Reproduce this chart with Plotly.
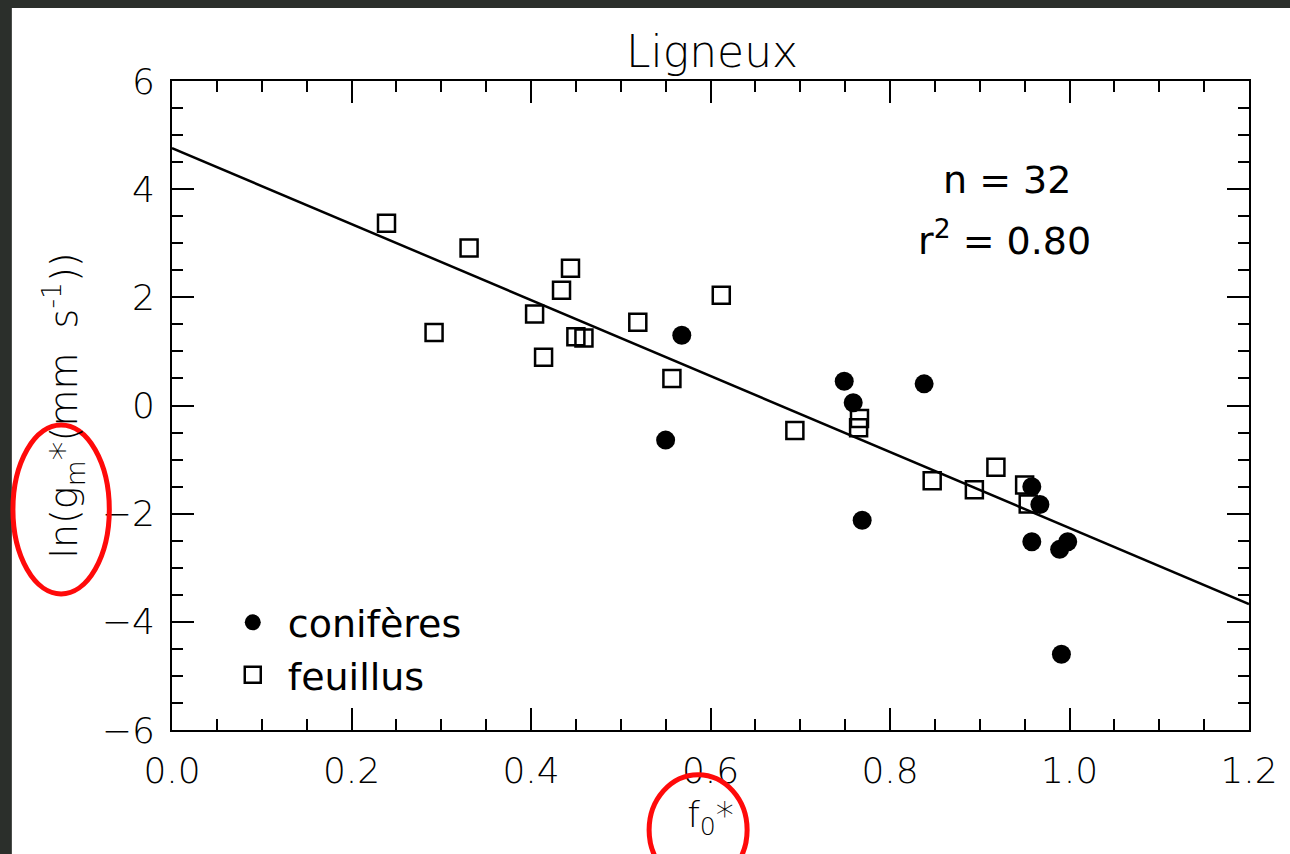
import plotly.graph_objects as go

# conifères (filled circles)
conif_x = [0.568, 0.550, 0.749, 0.759, 0.838, 0.769, 0.958, 0.967, 0.958, 0.998, 0.989, 0.991]
conif_y = [1.30, -0.64, 0.45, 0.05, 0.40, -2.12, -1.50, -1.83, -2.52, -2.52, -2.66, -4.60]

# feuillus (open squares)
feuil_x = [0.239, 0.331, 0.292, 0.444, 0.434, 0.404, 0.414, 0.450, 0.459, 0.519,
           0.557, 0.612, 0.694, 0.766, 0.765, 0.847, 0.894, 0.918, 0.950, 0.954]
feuil_y = [3.37, 2.91, 1.35, 2.54, 2.13, 1.69, 0.89, 1.27, 1.25, 1.54,
           0.50, 2.04, -0.46, -0.24, -0.41, -1.39, -1.56, -1.14, -1.47, -1.82]

# regression line end points
fit_x = [0.0, 1.2]
fit_y = [4.76, -3.67]

x_ticks = [0.0, 0.2, 0.4, 0.6, 0.8, 1.0, 1.2]
y_ticks = [-6, -4, -2, 0, 2, 4, 6]

thin = dict(family="DejaVu Sans", size=36, color="black", weight=200)
comic = dict(family="DejaVu Sans", size=38, color="black")

fig = go.Figure()
fig.add_trace(go.Scatter(x=fit_x, y=fit_y, mode="lines", line=dict(color="black", width=2.5),
                         showlegend=False, hoverinfo="skip"))
fig.add_trace(go.Scatter(x=feuil_x, y=feuil_y, mode="markers", name="feuillus", legendrank=2,
                         marker=dict(symbol="square-open", size=17, color="black", line=dict(width=2.5))))
fig.add_trace(go.Scatter(x=conif_x, y=conif_y, mode="markers", name="conifères", legendrank=1,
                         marker=dict(symbol="circle", size=19, color="black")))

axis_common = dict(showline=True, linecolor="black", linewidth=2, mirror="ticks",
                   ticks="inside", ticklen=22, tickwidth=2, tickcolor="black",
                   showgrid=False, zeroline=False, tickfont=thin)

fig.update_xaxes(range=[0, 1.2], tickvals=x_ticks, tickformat=".1f",
                 minor=dict(dtick=0.05, ticks="inside", ticklen=11, tickwidth=2, tickcolor="black"),
                 ticklabelstandoff=8,
                 title=dict(text="f<sub>0</sub>*", font=thin, standoff=12), **axis_common)
fig.update_yaxes(range=[-6, 6], tickvals=y_ticks,
                 minor=dict(dtick=0.5, ticks="inside", ticklen=11, tickwidth=2, tickcolor="black"),
                 ticklabelstandoff=8,
                 title=dict(text="ln(g<sub>m</sub>*(mm  s<sup>-1</sup>))",
                            font=dict(family="DejaVu Sans", size=38, color="black", weight=200),
                            standoff=12),
                 **axis_common)

# stats text
fig.add_annotation(x=0.775, y=0.847, xref="paper", yref="paper", text="n = 32",
                   xanchor="center", yanchor="middle", showarrow=False, font=comic)
fig.add_annotation(x=0.773, y=0.758, xref="paper", yref="paper", text="r<sup>2</sup> = 0.80",
                   xanchor="center", yanchor="middle", showarrow=False, font=comic)

# dark frame of the slide, then the red highlight ellipses
dark = "#2b2f2b"
fig.add_shape(type="rect", xref="paper", yref="paper", x0=-0.1600, x1=-0.1487, y0=-0.2, y1=1.13,
              fillcolor=dark, line_width=0)
fig.add_shape(type="rect", xref="paper", yref="paper", x0=-0.1600, x1=1.04, y0=1.1125, y1=1.13,
              fillcolor=dark, line_width=0)
fig.add_shape(type="circle", xref="paper", yref="paper", x0=-0.1477, x1=-0.0582, y0=0.2096, y1=0.470,
              line=dict(color="#ff0a0a", width=5))
fig.add_shape(type="circle", xref="paper", yref="paper", x0=0.443, x1=0.534, y0=-0.239, y1=-0.069,
              line=dict(color="#ff0a0a", width=5))

fig.update_layout(
    width=1290, height=854,
    margin=dict(l=172, r=35, t=81, b=124),
    paper_bgcolor="white", plot_bgcolor="white",
    title=dict(text="Ligneux", x=0.552, y=0.939, xanchor="center", yanchor="middle",
               font=dict(family="DejaVu Sans", size=44, color="black", weight=200)),
    legend=dict(x=0.0425, y=0.214, xanchor="left", yanchor="top", font=comic,
                bgcolor="rgba(0,0,0,0)", itemwidth=60),
)

# page margin off so the figure sits at the window corner
fig.write_html("out.html", config={"displayModeBar": False},
               post_script="document.body.style.margin='0px';")
